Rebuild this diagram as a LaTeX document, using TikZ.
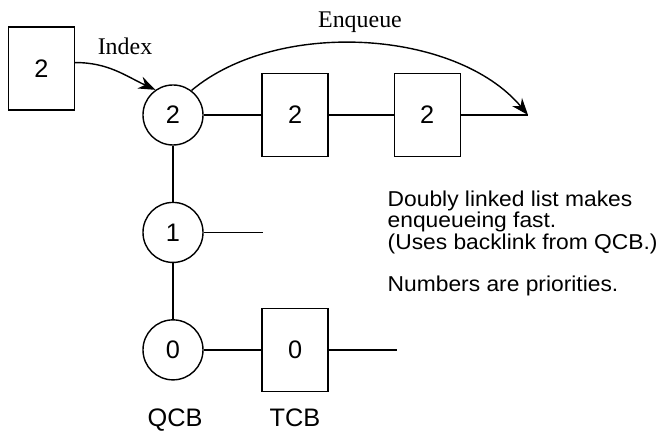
\documentclass[tikz,border=0pt]{standalone}
\usepackage{fontspec}
\setmainfont{Liberation Sans}
\newfontfamily\notefont{Liberation Sans}[FakeStretch=1.06]
\newfontfamily\seriffont{Liberation Serif}
\usetikzlibrary{positioning, arrows.meta}

\begin{document}
\begin{tikzpicture}[x=0.025cm, y=-0.025cm,
        qcb/.style={draw, circle, minimum size=1.5cm, inner sep=0pt, font=\fontsize{18}{20}\selectfont},
        tcb/.style={draw, rectangle, minimum width=1.65cm, minimum height=2.08cm, inner sep=0pt, font=\fontsize{18}{20}\selectfont},
        lbl/.style={anchor=base, inner sep=0pt, font=\fontsize{18}{20}\selectfont},
        arclbl/.style={anchor=base, inner sep=0pt, font=\seriffont\fontsize{17}{20}\selectfont},
        line width=1pt, >={Stealth[length=12pt, width=9pt]}]

    \useasboundingbox (0,0) rectangle (660,431);

    % index entry
    \node (idx) [tcb] at (41.5,68.5) {2};

    % queue heads
    \node (q2) [qcb] at (173,115) {2};
    \node (q1) [qcb, below=1.4cm of q2] {1};
    \node (q0) [qcb, below=1.4cm of q1] {0};

    % task blocks
    \node (t2a) [tcb, right=1.44cm of q2] {2};
    \node (t2b) [tcb, right=1.62cm of t2a] {2};
    \node (t0) [tcb, right=1.44cm of q0] {0};

    % open list ends
    \node (e2) [coordinate, right=1.675cm of t2b] {};
    \node (e1) [coordinate, right=1.475cm of q1] {};
    \node (e0) [coordinate, right=1.7cm of t0] {};

    % labels
    \node (idxlbl) [arclbl] at (125,55) {Index};
    \node (enqlbl) [arclbl] at (360,28) {Enqueue};
    \node (qcblbl) [lbl] at (175,427) {QCB};
    \node (tcblbl) [lbl] at (295,427) {TCB};
    \node (note) [anchor=north west, align=left, inner sep=0pt,
        font=\notefont\fontsize{15.3}{13}\selectfont] at (387,190)
        {Doubly linked list makes\\ enqueueing fast.\\ (Uses backlink from QCB.)\\[15pt] Numbers are priorities.};

    % links
    \draw (q2) -- (t2a);
    \draw (t2a) -- (t2b);
    \draw (t2b) -- (e2);
    \draw (q2) -- (q1);
    \draw (q1) -- (q0);
    \draw (q1) -- (e1);
    \draw (q0) -- (t0);
    \draw (t0) -- (e0);

    % arrows
    \draw[->] (idx.10) to[out=0, in=155] (q2.125);
    \draw[->] (q2.53) to[out=40, in=130, looseness=0.85] (e2);
\end{tikzpicture}
\end{document}
